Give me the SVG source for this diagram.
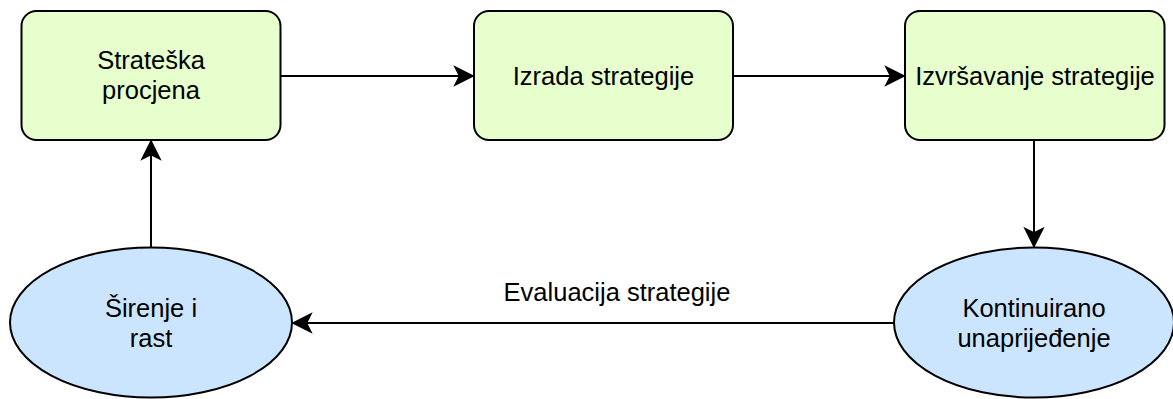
<svg xmlns="http://www.w3.org/2000/svg" width="1173" height="399" viewBox="0 0 1173 399">
  <style>
    .box { fill: #e6ffcc; stroke: #000; stroke-width: 2; }
    .ell { fill: #cce5ff; stroke: #000; stroke-width: 2; }
    .lbl { font-family: "Liberation Sans", Arial, sans-serif; font-size: 25.5px; fill: #000; text-anchor: middle; }
    .edge { fill: none; stroke: #000; stroke-width: 2; }
  </style>
  <defs>
    <marker id="arrow" viewBox="-20 -11 22 22" refX="0" refY="0" markerWidth="22" markerHeight="22" markerUnits="userSpaceOnUse" orient="auto">
      <path d="M0,0 L-18,-9 L-13.5,0 L-18,9 Z" fill="#000" stroke="#000" stroke-width="1.5" stroke-linejoin="miter"/>
    </marker>
  </defs>
  <g id="connectors">
    <path class="edge" d="M280.5,76 L473,76" marker-end="url(#arrow)"/>
    <path class="edge" d="M733,76 L904,76" marker-end="url(#arrow)"/>
    <path class="edge" d="M1034,140 L1034,246.5" marker-end="url(#arrow)"/>
    <path class="edge" d="M894,323 L293,323" marker-end="url(#arrow)"/>
    <path class="edge" d="M151,247.5 L151,141" marker-end="url(#arrow)"/>
    <text class="lbl" x="617" y="301">Evaluacija strategije</text>
  </g>
  <g id="node-strateska-procjena">
    <rect class="box" x="21.5" y="11" width="259" height="129" rx="15" ry="15"/>
    <text class="lbl" x="151" y="69">Strateška</text>
    <text class="lbl" x="151" y="99">procjena</text>
  </g>
  <g id="node-izrada-strategije">
    <rect class="box" x="474" y="11" width="259" height="129" rx="15" ry="15"/>
    <text class="lbl" x="603.5" y="84.5">Izrada strategije</text>
  </g>
  <g id="node-izvrsavanje-strategije">
    <rect class="box" x="905" y="11" width="259.5" height="129" rx="15" ry="15"/>
    <text class="lbl" x="1035" y="84.5">Izvršavanje strategije</text>
  </g>
  <g id="node-kontinuirano-unapredjenje">
    <ellipse class="ell" cx="1034" cy="322.5" rx="140" ry="75"/>
    <text class="lbl" x="1034" y="317">Kontinuirano</text>
    <text class="lbl" x="1034" y="347">unaprijeđenje</text>
  </g>
  <g id="node-sirenje-i-rast">
    <ellipse class="ell" cx="151" cy="322.5" rx="141" ry="75"/>
    <text class="lbl" x="151" y="317">Širenje i</text>
    <text class="lbl" x="151" y="347">rast</text>
  </g>
</svg>
